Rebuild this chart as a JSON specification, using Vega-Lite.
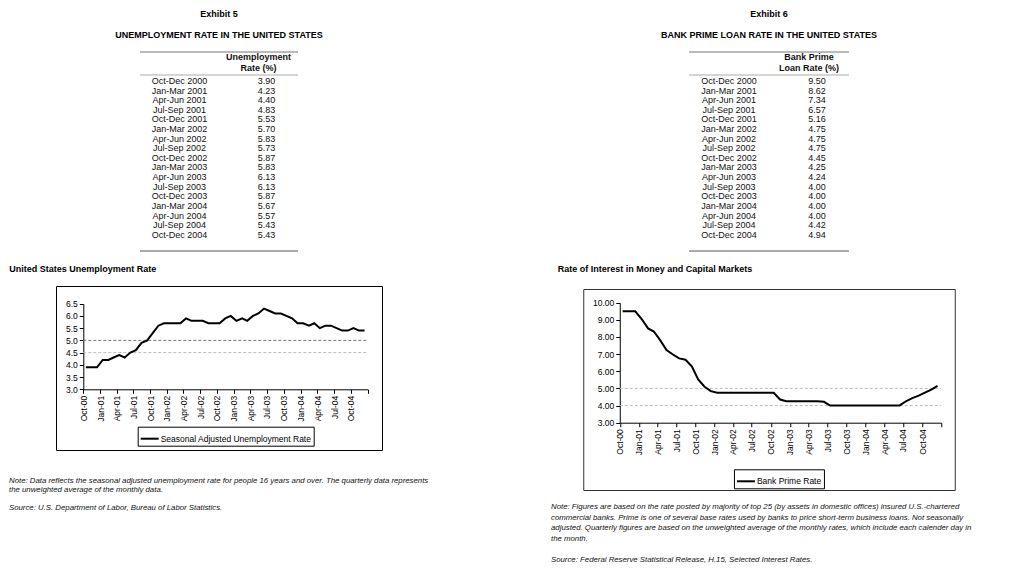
{
  "$schema": "https://vega.github.io/schema/vega-lite/v6.json",
  "background": "white",
  "padding": {"left": 8, "top": 9, "right": 5, "bottom": 5},
  "config": {
    "font": "Liberation Sans",
    "view": {"stroke": null},
    "axis": {"labelFontSize": 8.5, "labelColor": "#000", "domainColor": "#000", "tickColor": "#000", "grid": false},
    "title": {"fontSize": 9, "fontWeight": "bold", "color": "#000", "subtitleFontSize": 9, "subtitleFontWeight": "bold", "subtitleColor": "#000", "subtitleFont": "Liberation Sans"},
    "text": {"color": "#111"}
  },
  "bounds": "flush",
  "spacing": 542,
  "resolve": {"scale": {"stroke": "independent"}, "legend": {"stroke": "independent"}},
  "hconcat": [
    {
      "bounds": "flush",
      "center": true,
      "spacing": 35,
      "resolve": {"scale": {"stroke": "independent"}, "legend": {"stroke": "independent"}},
      "vconcat": [
        {
          "width": 158,
          "height": 199,
          "title": {"text": "Exhibit 5", "subtitle": "UNEMPLOYMENT RATE IN THE UNITED STATES", "anchor": "middle", "frame": "group", "offset": 12, "subtitlePadding": 12},
          "data": {"values": [
            {"period": "Oct-Dec 2000", "rate": 3.90},
            {"period": "Jan-Mar 2001", "rate": 4.23},
            {"period": "Apr-Jun 2001", "rate": 4.40},
            {"period": "Jul-Sep 2001", "rate": 4.83},
            {"period": "Oct-Dec 2001", "rate": 5.53},
            {"period": "Jan-Mar 2002", "rate": 5.70},
            {"period": "Apr-Jun 2002", "rate": 5.83},
            {"period": "Jul-Sep 2002", "rate": 5.73},
            {"period": "Oct-Dec 2002", "rate": 5.87},
            {"period": "Jan-Mar 2003", "rate": 5.83},
            {"period": "Apr-Jun 2003", "rate": 6.13},
            {"period": "Jul-Sep 2003", "rate": 6.13},
            {"period": "Oct-Dec 2003", "rate": 5.87},
            {"period": "Jan-Mar 2004", "rate": 5.67},
            {"period": "Apr-Jun 2004", "rate": 5.57},
            {"period": "Jul-Sep 2004", "rate": 5.43},
            {"period": "Oct-Dec 2004", "rate": 5.43}
          ]},
          "layer": [
            {
              "mark": {"type": "text", "fontSize": 9},
              "encoding": {
                "x": {"datum": "Period", "type": "nominal", "scale": {"domain": ["Period", "Rate"]}, "axis": null},
                "y": {"field": "period", "type": "nominal", "sort": null, "axis": null,
                  "scale": {"type": "point", "padding": 0, "range": [29, 182.75],
                    "domain": ["Oct-Dec 2000","Jan-Mar 2001","Apr-Jun 2001","Jul-Sep 2001","Oct-Dec 2001","Jan-Mar 2002","Apr-Jun 2002","Jul-Sep 2002","Oct-Dec 2002","Jan-Mar 2003","Apr-Jun 2003","Jul-Sep 2003","Oct-Dec 2003","Jan-Mar 2004","Apr-Jun 2004","Jul-Sep 2004","Oct-Dec 2004"]}},
                "text": {"field": "period"}
              }
            },
            {
              "mark": {"type": "text", "fontSize": 9, "dx": 8},
              "encoding": {
                "x": {"datum": "Rate", "type": "nominal"},
                "y": {"field": "period", "type": "nominal", "sort": null},
                "text": {"field": "rate", "format": ".2f"}
              }
            },
            {
              "data": {"values": [{}]},
              "mark": {"type": "text", "fontSize": 9, "fontWeight": "bold", "baseline": "bottom", "yOffset": -19, "lineHeight": 11, "text": ["Unemployment", "Rate (%)"]},
              "encoding": {"x": {"datum": "Rate", "type": "nominal"}, "y": {"datum": "Oct-Dec 2000", "type": "nominal"}}
            },
            {
              "data": {"values": [{}]},
              "mark": {"type": "rule", "yOffset": -29, "color": "#777", "strokeWidth": 1},
              "encoding": {"y": {"datum": "Oct-Dec 2000", "type": "nominal"}}
            },
            {
              "data": {"values": [{}]},
              "mark": {"type": "rule", "yOffset": -6, "color": "#aaa", "strokeWidth": 1},
              "encoding": {"y": {"datum": "Oct-Dec 2000", "type": "nominal"}}
            },
            {
              "data": {"values": [{}]},
              "mark": {"type": "rule", "yOffset": 16.25, "color": "#555", "strokeWidth": 1},
              "encoding": {"y": {"datum": "Oct-Dec 2004", "type": "nominal"}}
            }
          ]
        },
        {
          "width": 326,
          "height": 164,
          "view": {"stroke": "#000", "strokeWidth": 1},
          "title": {"text": "United States Unemployment Rate", "anchor": "start", "dx": -46.7, "offset": 12},
          "encoding": {
            "x": {"field": "month", "type": "temporal",
              "scale": {"domain": [{"year": 2000, "month": "oct", "date": 1}, {"year": 2005, "month": "jan", "date": 1}], "range": [27.3, 311.7]},
              "axis": {"title": null, "orient": "bottom", "offset": -60.7, "labelAngle": -90, "tickCount": {"interval": "month", "step": 3},
                "labelExpr": "year(datum.value) > 2004 ? '' : timeFormat(datum.value, '%b-%y')", "tickSize": 4, "labelPadding": 2, "labelOverlap": false, "labelFlush": false}},
            "y": {"field": "rate", "type": "quantitative",
              "scale": {"domain": [3, 6.5], "range": [103.3, 17.7], "nice": false, "zero": false},
              "axis": {"title": null, "offset": -27.3, "values": [3, 3.5, 4, 4.5, 5, 5.5, 6, 6.5], "format": ".1f", "tickSize": 4, "labelPadding": 2, "labelOverlap": false, "labelFlush": false}}
          },
          "layer": [
            {
              "data": {"values": [
                {"month": "2000-10-01", "end": "2005-01-01", "rate": 4.5}
              ]},
              "mark": {"type": "rule", "strokeDash": [3, 2], "color": "#bbb", "strokeWidth": 1},
              "encoding": {"x2": {"field": "end"}}
            },
            {
              "data": {"values": [
                {"month": "2000-10-01", "end": "2005-01-01", "rate": 5.0}
              ]},
              "mark": {"type": "rule", "strokeDash": [3, 2], "color": "#777", "strokeWidth": 1},
              "encoding": {"x2": {"field": "end"}}
            },
            {
              "data": {"values": [
                {"month": "2000-10-15", "rate": 3.9}, {"month": "2000-11-15", "rate": 3.9}, {"month": "2000-12-15", "rate": 3.9},
                {"month": "2001-01-15", "rate": 4.2}, {"month": "2001-02-15", "rate": 4.2}, {"month": "2001-03-15", "rate": 4.3},
                {"month": "2001-04-15", "rate": 4.4}, {"month": "2001-05-15", "rate": 4.3}, {"month": "2001-06-15", "rate": 4.5},
                {"month": "2001-07-15", "rate": 4.6}, {"month": "2001-08-15", "rate": 4.9}, {"month": "2001-09-15", "rate": 5.0},
                {"month": "2001-10-15", "rate": 5.3}, {"month": "2001-11-15", "rate": 5.6}, {"month": "2001-12-15", "rate": 5.7},
                {"month": "2002-01-15", "rate": 5.7}, {"month": "2002-02-15", "rate": 5.7}, {"month": "2002-03-15", "rate": 5.7},
                {"month": "2002-04-15", "rate": 5.9}, {"month": "2002-05-15", "rate": 5.8}, {"month": "2002-06-15", "rate": 5.8},
                {"month": "2002-07-15", "rate": 5.8}, {"month": "2002-08-15", "rate": 5.7}, {"month": "2002-09-15", "rate": 5.7},
                {"month": "2002-10-15", "rate": 5.7}, {"month": "2002-11-15", "rate": 5.9}, {"month": "2002-12-15", "rate": 6.0},
                {"month": "2003-01-15", "rate": 5.8}, {"month": "2003-02-15", "rate": 5.9}, {"month": "2003-03-15", "rate": 5.8},
                {"month": "2003-04-15", "rate": 6.0}, {"month": "2003-05-15", "rate": 6.1}, {"month": "2003-06-15", "rate": 6.3},
                {"month": "2003-07-15", "rate": 6.2}, {"month": "2003-08-15", "rate": 6.1}, {"month": "2003-09-15", "rate": 6.1},
                {"month": "2003-10-15", "rate": 6.0}, {"month": "2003-11-15", "rate": 5.9}, {"month": "2003-12-15", "rate": 5.7},
                {"month": "2004-01-15", "rate": 5.7}, {"month": "2004-02-15", "rate": 5.6}, {"month": "2004-03-15", "rate": 5.7},
                {"month": "2004-04-15", "rate": 5.5}, {"month": "2004-05-15", "rate": 5.6}, {"month": "2004-06-15", "rate": 5.6},
                {"month": "2004-07-15", "rate": 5.5}, {"month": "2004-08-15", "rate": 5.4}, {"month": "2004-09-15", "rate": 5.4},
                {"month": "2004-10-15", "rate": 5.5}, {"month": "2004-11-15", "rate": 5.4}, {"month": "2004-12-15", "rate": 5.4}
              ]},
              "mark": {"type": "line", "strokeWidth": 2},
              "encoding": {
                "stroke": {"datum": "Seasonal Adjusted Unemployment Rate", "type": "nominal", "scale": {"range": ["#000"]},
                  "legend": {"title": null, "orient": "none", "legendX": 81.7, "legendY": 140.7, "strokeColor": "#000", "fillColor": "white", "padding": 2,
                    "symbolType": "stroke", "symbolSize": 324, "symbolStrokeWidth": 2, "labelFontSize": 8.5, "labelOffset": 1, "labelColor": "#000"}}
              }
            }
          ]
        },
        {
          "width": 420,
          "height": 27,
          "data": {"values": [
            {"line": 1, "text": "Note: Data reflects the seasonal adjusted unemployment rate for people 16 years and over.  The quarterly data represents"},
            {"line": 2, "text": "the unweighted average of the monthly data."},
            {"line": 4, "text": "Source: U.S. Department of Labor, Bureau of Labor Statistics."}
          ]},
          "mark": {"type": "text", "align": "left", "baseline": "bottom", "fontSize": 7.8, "fontStyle": "italic"},
          "encoding": {
            "x": {"datum": "note", "type": "nominal", "scale": {"type": "point", "padding": 0, "align": 0}, "axis": null},
            "y": {"field": "line", "type": "ordinal", "scale": {"type": "point", "domain": [1, 2, 3, 4], "padding": 0}, "axis": null},
            "text": {"field": "text"}
          }
        }
      ]
    },
    {
      "bounds": "flush",
      "center": true,
      "spacing": 21,
      "resolve": {"scale": {"stroke": "independent"}, "legend": {"stroke": "independent"}},
      "vconcat": [
        {
          "width": 160,
          "height": 216,
          "title": {"text": "Exhibit 6", "subtitle": "BANK PRIME LOAN RATE IN THE UNITED STATES", "anchor": "middle", "frame": "group", "offset": 12, "subtitlePadding": 12},
          "data": {"values": [
            {"period": "Oct-Dec 2000", "rate": 9.50},
            {"period": "Jan-Mar 2001", "rate": 8.62},
            {"period": "Apr-Jun 2001", "rate": 7.34},
            {"period": "Jul-Sep 2001", "rate": 6.57},
            {"period": "Oct-Dec 2001", "rate": 5.16},
            {"period": "Jan-Mar 2002", "rate": 4.75},
            {"period": "Apr-Jun 2002", "rate": 4.75},
            {"period": "Jul-Sep 2002", "rate": 4.75},
            {"period": "Oct-Dec 2002", "rate": 4.45},
            {"period": "Jan-Mar 2003", "rate": 4.25},
            {"period": "Apr-Jun 2003", "rate": 4.24},
            {"period": "Jul-Sep 2003", "rate": 4.00},
            {"period": "Oct-Dec 2003", "rate": 4.00},
            {"period": "Jan-Mar 2004", "rate": 4.00},
            {"period": "Apr-Jun 2004", "rate": 4.00},
            {"period": "Jul-Sep 2004", "rate": 4.42},
            {"period": "Oct-Dec 2004", "rate": 4.94}
          ]},
          "layer": [
            {
              "mark": {"type": "text", "fontSize": 9},
              "encoding": {
                "x": {"datum": "Period", "type": "nominal", "scale": {"domain": ["Period", "Rate"]}, "axis": null},
                "y": {"field": "period", "type": "nominal", "sort": null, "axis": null,
                  "scale": {"type": "point", "padding": 0, "range": [29, 182.75],
                    "domain": ["Oct-Dec 2000","Jan-Mar 2001","Apr-Jun 2001","Jul-Sep 2001","Oct-Dec 2001","Jan-Mar 2002","Apr-Jun 2002","Jul-Sep 2002","Oct-Dec 2002","Jan-Mar 2003","Apr-Jun 2003","Jul-Sep 2003","Oct-Dec 2003","Jan-Mar 2004","Apr-Jun 2004","Jul-Sep 2004","Oct-Dec 2004"]}},
                "text": {"field": "period"}
              }
            },
            {
              "mark": {"type": "text", "fontSize": 9, "dx": 8},
              "encoding": {
                "x": {"datum": "Rate", "type": "nominal"},
                "y": {"field": "period", "type": "nominal", "sort": null},
                "text": {"field": "rate", "format": ".2f"}
              }
            },
            {
              "data": {"values": [{}]},
              "mark": {"type": "text", "fontSize": 9, "fontWeight": "bold", "baseline": "bottom", "yOffset": -19, "lineHeight": 11, "text": ["Bank Prime", "Loan Rate (%)"]},
              "encoding": {"x": {"datum": "Rate", "type": "nominal"}, "y": {"datum": "Oct-Dec 2000", "type": "nominal"}}
            },
            {
              "data": {"values": [{}]},
              "mark": {"type": "rule", "yOffset": -29, "color": "#777", "strokeWidth": 1},
              "encoding": {"y": {"datum": "Oct-Dec 2000", "type": "nominal"}}
            },
            {
              "data": {"values": [{}]},
              "mark": {"type": "rule", "yOffset": -6, "color": "#aaa", "strokeWidth": 1},
              "encoding": {"y": {"datum": "Oct-Dec 2000", "type": "nominal"}}
            },
            {
              "data": {"values": [{}]},
              "mark": {"type": "rule", "yOffset": 16.25, "color": "#555", "strokeWidth": 1},
              "encoding": {"y": {"datum": "Oct-Dec 2004", "type": "nominal"}}
            }
          ]
        },
        {
          "width": 371.5,
          "height": 201,
          "view": {"stroke": "#333", "strokeWidth": 1},
          "title": {"text": "Rate of Interest in Money and Capital Markets", "anchor": "start", "dx": -25.5, "offset": 15},
          "encoding": {
            "x": {"field": "month", "type": "temporal",
              "scale": {"domain": [{"year": 2000, "month": "oct", "date": 1}, {"year": 2005, "month": "jan", "date": 1}], "range": [36.5, 357.8]},
              "axis": {"title": null, "orient": "bottom", "offset": -67.3, "labelAngle": -90, "tickCount": {"interval": "month", "step": 3},
                "labelExpr": "year(datum.value) > 2004 ? '' : timeFormat(datum.value, '%b-%y')", "tickSize": 4, "labelPadding": 2, "labelOverlap": false, "labelFlush": false}},
            "y": {"field": "rate", "type": "quantitative",
              "scale": {"domain": [3, 10], "range": [133.7, 13.7], "nice": false, "zero": false},
              "axis": {"title": null, "offset": -36.5, "values": [3, 4, 5, 6, 7, 8, 9, 10], "format": ".2f", "tickSize": 4, "labelPadding": 2, "labelOverlap": false, "labelFlush": false}}
          },
          "layer": [
            {
              "data": {"values": [
                {"month": "2000-10-01", "end": "2005-01-01", "rate": 4},
                {"month": "2000-10-01", "end": "2005-01-01", "rate": 5}
              ]},
              "mark": {"type": "rule", "strokeDash": [3, 2], "color": "#bbb", "strokeWidth": 1},
              "encoding": {"x2": {"field": "end"}}
            },
            {
              "data": {"values": [
                {"month": "2000-10-15", "rate": 9.50}, {"month": "2000-11-15", "rate": 9.50}, {"month": "2000-12-15", "rate": 9.50},
                {"month": "2001-01-15", "rate": 9.05}, {"month": "2001-02-15", "rate": 8.50}, {"month": "2001-03-15", "rate": 8.32},
                {"month": "2001-04-15", "rate": 7.80}, {"month": "2001-05-15", "rate": 7.24}, {"month": "2001-06-15", "rate": 6.98},
                {"month": "2001-07-15", "rate": 6.75}, {"month": "2001-08-15", "rate": 6.67}, {"month": "2001-09-15", "rate": 6.28},
                {"month": "2001-10-15", "rate": 5.53}, {"month": "2001-11-15", "rate": 5.10}, {"month": "2001-12-15", "rate": 4.84},
                {"month": "2002-01-15", "rate": 4.75}, {"month": "2002-02-15", "rate": 4.75}, {"month": "2002-03-15", "rate": 4.75},
                {"month": "2002-04-15", "rate": 4.75}, {"month": "2002-05-15", "rate": 4.75}, {"month": "2002-06-15", "rate": 4.75},
                {"month": "2002-07-15", "rate": 4.75}, {"month": "2002-08-15", "rate": 4.75}, {"month": "2002-09-15", "rate": 4.75},
                {"month": "2002-10-15", "rate": 4.75}, {"month": "2002-11-15", "rate": 4.35}, {"month": "2002-12-15", "rate": 4.25},
                {"month": "2003-01-15", "rate": 4.25}, {"month": "2003-02-15", "rate": 4.25}, {"month": "2003-03-15", "rate": 4.25},
                {"month": "2003-04-15", "rate": 4.25}, {"month": "2003-05-15", "rate": 4.25}, {"month": "2003-06-15", "rate": 4.22},
                {"month": "2003-07-15", "rate": 4.00}, {"month": "2003-08-15", "rate": 4.00}, {"month": "2003-09-15", "rate": 4.00},
                {"month": "2003-10-15", "rate": 4.00}, {"month": "2003-11-15", "rate": 4.00}, {"month": "2003-12-15", "rate": 4.00},
                {"month": "2004-01-15", "rate": 4.00}, {"month": "2004-02-15", "rate": 4.00}, {"month": "2004-03-15", "rate": 4.00},
                {"month": "2004-04-15", "rate": 4.00}, {"month": "2004-05-15", "rate": 4.00}, {"month": "2004-06-15", "rate": 4.01},
                {"month": "2004-07-15", "rate": 4.25}, {"month": "2004-08-15", "rate": 4.43}, {"month": "2004-09-15", "rate": 4.58},
                {"month": "2004-10-15", "rate": 4.75}, {"month": "2004-11-15", "rate": 4.93}, {"month": "2004-12-15", "rate": 5.15}
              ]},
              "mark": {"type": "line", "strokeWidth": 2},
              "encoding": {
                "stroke": {"datum": "Bank Prime Rate", "type": "nominal", "scale": {"range": ["#000"]},
                  "legend": {"title": null, "orient": "none", "legendX": 150.7, "legendY": 180.3, "strokeColor": "#000", "fillColor": "white", "padding": 2,
                    "symbolType": "stroke", "symbolSize": 324, "symbolStrokeWidth": 2, "labelFontSize": 8.5, "labelOffset": 1, "labelColor": "#000"}}
              }
            }
          ]
        },
        {
          "width": 436,
          "height": 52.5,
          "data": {"values": [
            {"line": 1, "text": "Note: Figures are based on the rate posted by majority of top 25 (by assets in domestic offices) insured U.S.-chartered"},
            {"line": 2, "text": "commercial banks.  Prime is one of several base rates used by banks to price short-term business loans.  Not seasonally"},
            {"line": 3, "text": "adjusted.  Quarterly figures are based on the unweighted average of the monthly rates, which include each calender day in"},
            {"line": 4, "text": "the month."},
            {"line": 6, "text": "Source: Federal Reserve Statistical Release, H.15, Selected Interest Rates."}
          ]},
          "mark": {"type": "text", "align": "left", "baseline": "bottom", "fontSize": 7.8, "fontStyle": "italic"},
          "encoding": {
            "x": {"datum": "note", "type": "nominal", "scale": {"type": "point", "padding": 0, "align": 0}, "axis": null},
            "y": {"field": "line", "type": "ordinal", "scale": {"type": "point", "domain": [1, 2, 3, 4, 5, 6], "padding": 0}, "axis": null},
            "text": {"field": "text"}
          }
        }
      ]
    }
  ]
}
